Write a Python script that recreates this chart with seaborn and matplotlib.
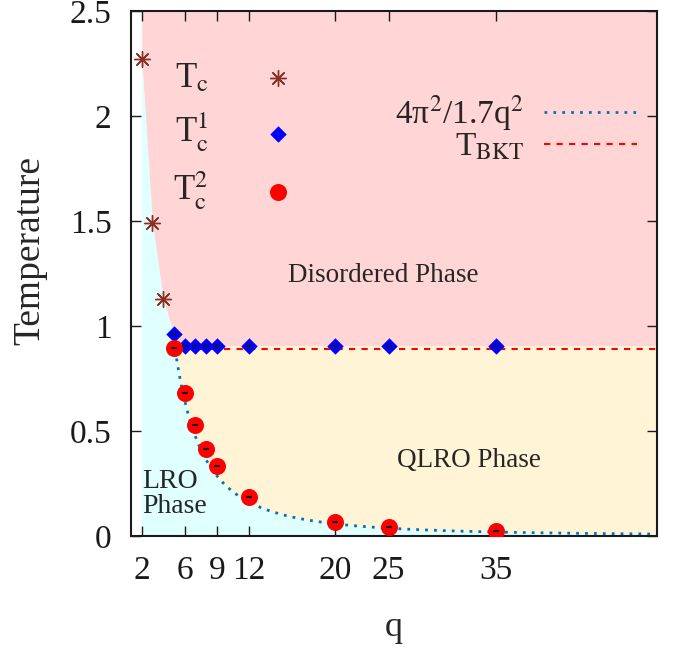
import numpy as np
import pandas as pd
import matplotlib
matplotlib.use("Agg")
import matplotlib.pyplot as plt
import seaborn as sns

# data
q_tc = [2, 3, 4]
t_tc = [2.27, 1.49, 1.13]

q_t1 = [5, 6, 7, 8, 9, 12, 20, 25, 35]
t_t1 = [0.96, 0.905, 0.905, 0.905, 0.905, 0.905, 0.905, 0.905, 0.905]

q_t2 = [5, 6, 7, 8, 9, 12, 20, 25, 35]
t_t2 = [0.895, 0.68, 0.53, 0.415, 0.333, 0.186, 0.067, 0.043, 0.022]

t_bkt = 0.89
xticks = [2, 6, 9, 12, 20, 25, 35]

sns.set_theme(style="ticks")
plt.rcParams["font.family"] = ["Liberation Serif", "DejaVu Serif"]
plt.rcParams["mathtext.fontset"] = "stix"

fig = plt.figure(figsize=(6.76, 6.5), dpi=100)
ax = fig.add_axes([131 / 676, 114 / 650, 526 / 676, 525 / 650])

# phase regions
qb = np.linspace(2, 50, 1000)
bound = np.interp(qb, q_tc + q_t1, t_tc + t_t1)
ax.fill_between(qb, 0, bound, color="#e0ffff", lw=0, zorder=0)
ax.fill_between(qb, bound, 2.5, color="#ffd5d5", lw=0, zorder=0)
curve_all = 4 * np.pi**2 / (1.7 * qb**2)
ax.fill_between(qb, curve_all, bound, where=(qb >= 5) & (curve_all < bound),
                color="#fff4d6", lw=0, zorder=0)

# theory curve and BKT line
qc = np.linspace(5, 50, 400)
df_c = pd.DataFrame({"q": qc, "T": 4 * np.pi**2 / (1.7 * qc**2)})
sns.lineplot(data=df_c, x="q", y="T", ax=ax, color="#0072bd", lw=2,
             linestyle=(0, (1, 2.2)), label=r"4π$^2$/1.7q$^2$", zorder=2)
df_b = pd.DataFrame({"q": [5, 50], "T": [t_bkt, t_bkt]})
sns.lineplot(data=df_b, x="q", y="T", ax=ax, color="#ff0000", lw=1.5,
             linestyle=(0, (3, 3)), label=r"T$_{\mathrm{BKT}}$", zorder=2)
h_lines, l_lines = ax.get_legend_handles_labels()
ax.get_legend().remove()

# points
a = ax.scatter(q_tc, t_tc, marker=(8, 2, 0), s=130, color="#8b3022", lw=1, zorder=3)
b = ax.scatter(q_t1, t_t1, marker="D", s=70, color="#0000ff", lw=0, zorder=3)
c = ax.scatter(q_t2, t_t2, marker="o", s=150, color="#ff0000", lw=0, zorder=3)
ax.scatter(q_t1, t_t1, marker="_", s=25, color="k", lw=1.5, zorder=4)
ax.scatter(q_t2, t_t2, marker="_", s=25, color="k", lw=1.5, zorder=4)

leg1 = ax.legend([a, b, c],
                 [r"T$_{\mathrm{c}}$", r"T$_{\mathrm{c}}^{1}$", r"T$_{\mathrm{c}}^{2}$"],
                 loc="upper left", bbox_to_anchor=(0.047, 0.935), frameon=False,
                 markerfirst=False, fontsize=25, handletextpad=1.0,
                 labelspacing=0.45, borderpad=0, scatterpoints=1)
ax.add_artist(leg1)
ax.legend(h_lines, l_lines, loc="upper right", bbox_to_anchor=(0.994, 0.874),
          frameon=False, markerfirst=False, fontsize=24, handlelength=2.8,
          handletextpad=0.6, labelspacing=-0.05, borderpad=0)

# region labels
ax.text(24.5, 1.24, "Disordered Phase", fontsize=19.5, ha="center", va="center")
ax.text(32.5, 0.36, "QLRO Phase", fontsize=19.5, ha="center", va="center")
ax.text(2.0, 0.2, "LRO\nPhase", fontsize=20, ha="left", va="center", linespacing=1.0)

ax.set_xlim(1, 50)
ax.set_ylim(0, 2.5)
ax.set_xticks(xticks)
ax.set_yticks([0, 0.5, 1, 1.5, 2, 2.5])
ax.set_yticklabels(["0", "0.5", "1", "1.5", "2", "2.5"])
ax.tick_params(direction="in", top=True, right=True, length=7, width=1,
               labelsize=24, pad=14, colors="k")
ax.tick_params(axis="x", pad=14)
for s in ax.spines.values():
    s.set_linewidth(1.5)
    s.set_color("k")
ax.set_xlabel("q", fontsize=26, labelpad=18)
ax.set_ylabel("Temperature", fontsize=27)
ax.yaxis.set_label_coords(-0.16, 0.543)

fig.savefig("out.png", dpi=100)
